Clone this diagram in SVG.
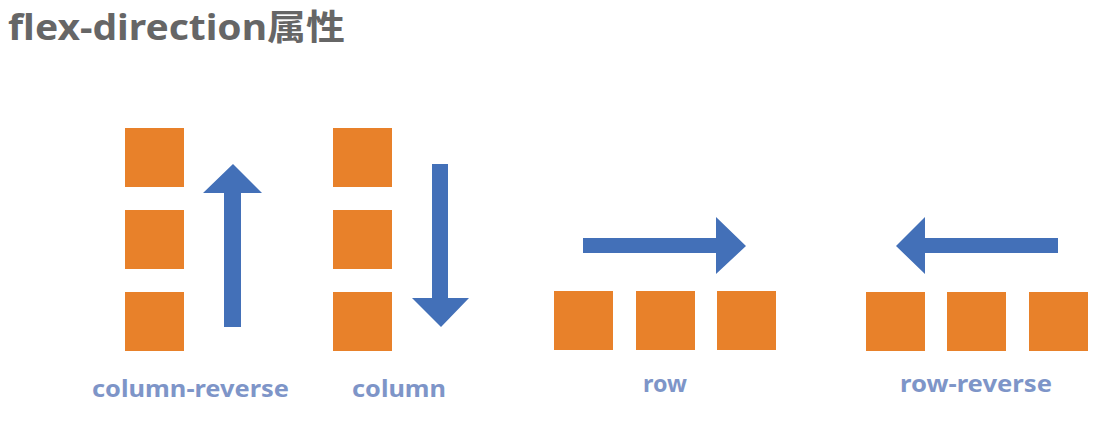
<svg xmlns="http://www.w3.org/2000/svg" width="1101" height="427" viewBox="0 0 1101 427">
<style>
.box{fill:#E8812A}
.arr{fill:#4370B8}
.lbl{font-family:"Noto Sans","Noto Sans CJK SC",sans-serif;font-weight:bold;font-size:24px;fill:#7E95C8}
.title{font-family:"Noto Sans","Noto Sans CJK SC",sans-serif;font-weight:bold;font-size:35px;fill:#666666}
</style>
<rect width="1101" height="427" fill="#ffffff"/>
<text class="title" x="8" y="40" textLength="337" lengthAdjust="spacingAndGlyphs">flex-direction属性</text>
<g id="column-reverse">
<rect class="box" x="125" y="128" width="59" height="59"/>
<rect class="box" x="125" y="210" width="59" height="59"/>
<rect class="box" x="125" y="292" width="59" height="59"/>
<text class="lbl" x="92" y="397" textLength="197" lengthAdjust="spacingAndGlyphs">column-reverse</text>
</g>
<g id="column">
<rect class="box" x="333" y="128" width="59" height="59"/>
<rect class="box" x="333" y="210" width="59" height="59"/>
<rect class="box" x="333" y="292" width="59" height="59"/>
<text class="lbl" x="352" y="397" textLength="94" lengthAdjust="spacingAndGlyphs">column</text>
</g>
<g id="row">
<rect class="box" x="554" y="291" width="59" height="59"/>
<rect class="box" x="636" y="291" width="59" height="59"/>
<rect class="box" x="717" y="291" width="59" height="59"/>
<text class="lbl" x="643" y="392" textLength="44" lengthAdjust="spacingAndGlyphs">row</text>
</g>
<g id="row-reverse">
<rect class="box" x="866" y="292" width="59" height="59"/>
<rect class="box" x="947" y="292" width="59" height="59"/>
<rect class="box" x="1029" y="292" width="59" height="59"/>
<text class="lbl" x="900" y="392" textLength="152" lengthAdjust="spacingAndGlyphs">row-reverse</text>
</g>
<g id="connectors">
<polygon class="arr" points="224,327 241,327 241,193 262,193 233,164 203,193 224,193"/>
<polygon class="arr" points="432,164 448,164 448,298 469,298 441,327 412,298 432,298"/>
<polygon class="arr" points="583,238 716,238 716,217 746,246 716,274 716,253 583,253"/>
<polygon class="arr" points="1058,238 925,238 925,217 896,246 925,274 925,253 1058,253"/>
</g>
</svg>
